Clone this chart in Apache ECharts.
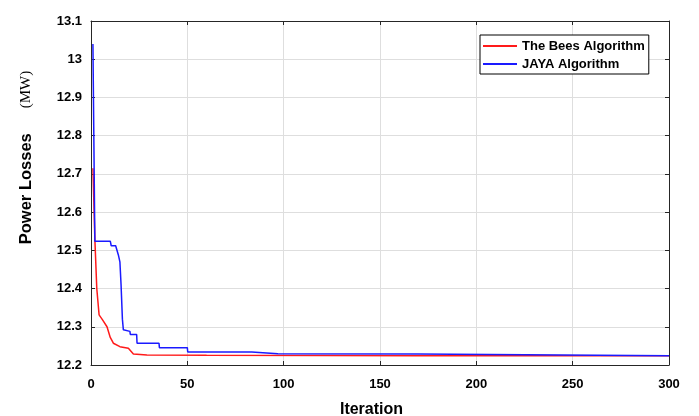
<!DOCTYPE html>
<html>
<head>
<meta charset="utf-8">
<script src="https://cdn.jsdelivr.net/npm/echarts@6/dist/echarts.min.js"></script>
<style>
html,body{margin:0;padding:0;background:#fff;}
#chart{width:699px;height:416px;}
</style>
</head>
<body>
<div id="chart"></div>
<script>
// ---- data ----
var seriesNames = ['The Bees Algorithm', 'JAYA Algorithm'];
var xTicks = [0, 50, 100, 150, 200, 250, 300];
var yTicks = [12.2, 12.3, 12.4, 12.5, 12.6, 12.7, 12.8, 12.9, 13, 13.1];
// [iteration, power loss (MW)]
var beesData = [
  [1, 12.715], [2, 12.53], [3, 12.40], [4.2, 12.331], [6, 12.318], [8.3, 12.300],
  [10, 12.272], [11.6, 12.257], [15, 12.248], [19.4, 12.244], [22, 12.229],
  [29, 12.226], [60, 12.2255], [120, 12.225], [169, 12.2245], [300, 12.2245]
];
var jayaData = [
  [1, 13.04], [2, 12.524], [10, 12.524], [10.5, 12.512], [12.8, 12.512],
  [14.2, 12.488], [15, 12.47], [15.6, 12.41], [16.3, 12.32], [16.8, 12.292],
  [20.2, 12.288], [20.4, 12.280], [23.7, 12.280], [23.9, 12.257], [35.3, 12.257],
  [35.5, 12.2453], [50, 12.2453], [50.2, 12.234], [83.4, 12.234], [84, 12.2296],
  [97, 12.2296], [97.5, 12.229], [169.5, 12.229], [170, 12.2245], [300, 12.2245]
];

var chart = echarts.init(document.getElementById('chart'), null, {renderer: 'canvas'});
var axisLineStyle = {color: '#262626', width: 1};
var labelStyle = {color: '#000', fontFamily: 'Liberation Sans, Arial, sans-serif', fontWeight: 'bold', fontSize: 13};
var gridLineStyle = {color: '#dedede', width: 1};

var option = {
  animation: false,
  backgroundColor: '#fff',
  grid: {left: 91, right: 30, top: 21, bottom: 51, containLabel: false, outerBoundsMode: 'none'},
  legend: {
    data: seriesNames,
    orient: 'vertical',
    left: 480, top: 35,
    icon: 'rect',
    itemWidth: 34, itemHeight: 2,
    itemGap: 4,
    padding: [4, 4, 3, 3],
    borderColor: '#000', borderWidth: 1,
    backgroundColor: '#fff',
    textStyle: {color: '#000', fontFamily: 'Liberation Sans, Arial, sans-serif', fontWeight: 'bold', fontSize: 13, lineHeight: 14}
  },
  xAxis: [{
    type: 'value', min: 0, max: 300, interval: 50,
    position: 'bottom',
    name: 'Iteration', nameLocation: 'middle', nameGap: 37,
    nameTextStyle: {color: '#000', fontFamily: 'Liberation Sans, Arial, sans-serif', fontWeight: 'bold', fontSize: 16, padding: [0, 17, 0, 0]},
    axisLine: {show: true, onZero: false, lineStyle: axisLineStyle},
    axisTick: {show: true, inside: true, length: 4, lineStyle: axisLineStyle},
    axisLabel: Object.assign({margin: 13, formatter: function (v) { return xTicks.indexOf(v) >= 0 ? String(v) : ''; }}, labelStyle),
    splitLine: {show: true, lineStyle: gridLineStyle}
  }, {
    type: 'value', min: 0, max: 300, interval: 50,
    position: 'top',
    axisLine: {show: true, onZero: false, lineStyle: axisLineStyle},
    axisTick: {show: true, inside: true, length: 4, lineStyle: axisLineStyle},
    axisLabel: {show: false},
    splitLine: {show: false}
  }],
  yAxis: [{
    type: 'value', min: 12.2, max: 13.1, interval: 0.1,
    position: 'left',
    name: '{a|Power Losses}{b|(MW)}', nameLocation: 'middle', nameGap: 56,
    nameTextStyle: {
      padding: [0, 0, 0, 71],
      rich: {
        a: {color: '#000', fontFamily: 'Liberation Sans, Arial, sans-serif', fontWeight: 'bold', fontSize: 16.5},
        b: {color: '#000', fontFamily: 'Liberation Serif, Times New Roman, serif', fontWeight: 'normal', fontSize: 15, padding: [0, 0, 0, 25]}
      }
    },
    axisLine: {show: true, onZero: false, lineStyle: axisLineStyle},
    axisTick: {show: true, inside: true, length: 4, lineStyle: axisLineStyle},
    axisLabel: Object.assign({margin: 9, formatter: function (v) { return String(+v.toFixed(1)); }}, labelStyle),
    splitLine: {show: true, lineStyle: gridLineStyle}
  }, {
    type: 'value', min: 12.2, max: 13.1, interval: 0.1,
    position: 'right',
    axisLine: {show: true, onZero: false, lineStyle: axisLineStyle},
    axisTick: {show: true, inside: true, length: 4, lineStyle: axisLineStyle},
    axisLabel: {show: false},
    splitLine: {show: false}
  }],
  series: [{
    name: seriesNames[0], type: 'line', data: beesData,
    showSymbol: false, symbol: 'none',
    lineStyle: {color: '#ff1a1a', width: 1.5},
    itemStyle: {color: '#ff1a1a'}
  }, {
    name: seriesNames[1], type: 'line', data: jayaData,
    showSymbol: false, symbol: 'none',
    lineStyle: {color: '#1a1aff', width: 1.5},
    itemStyle: {color: '#1a1aff'}
  }]
};
chart.setOption(option);
</script>
</body>
</html>
